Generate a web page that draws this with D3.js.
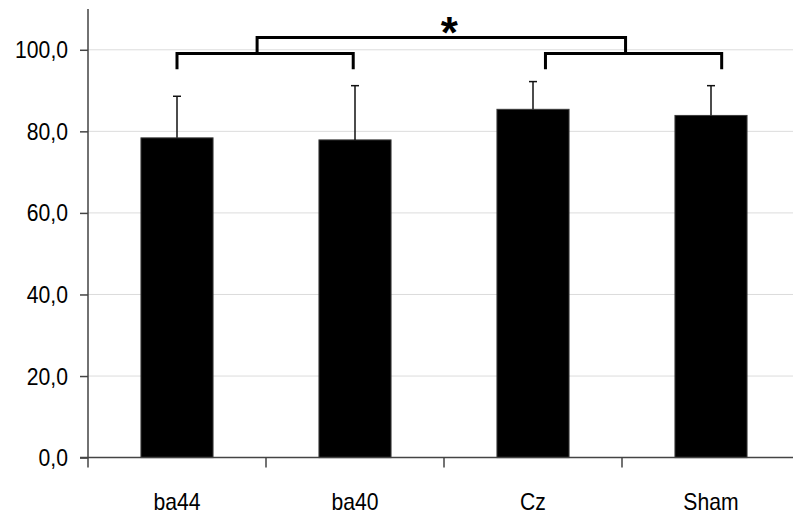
<!DOCTYPE html>
<html>
<head>
<meta charset="utf-8">
<script src="https://cdn.jsdelivr.net/npm/d3@7"></script>
<style>
  html, body { margin: 0; padding: 0; background: #fff; }
  svg { display: block; }
  text { font-family: "Liberation Sans", Arial, sans-serif; }
</style>
</head>
<body>
<svg id="chart" width="793" height="515"></svg>
<script>
// Stimulation sites and their mean scores with standard deviation
const categories = ["ba44", "ba40", "Cz", "Sham"];
const means = [78.4, 77.9, 85.4, 83.9];
const sds = [10.2, 13.3, 6.8, 7.3];
const yTicks = [0, 20, 40, 60, 80, 100];

// Significance brackets: x in category units (0..4), y in score units
const pairBrackets = [
  { x1: 0.5, x2: 1.49, y: 99.1, drop: 95.2 },
  { x1: 2.57, x2: 3.56, y: 99.1, drop: 95.2 }
];
const groupBracket = { x1: 0.95, x2: 3.02, y: 103.0, drop: 99.1 };
const starLabel = { x: 2.03, y: 105.3, text: "*" };

const svg = d3.select("#chart");
const margin = { left: 88, right: -7, top: 9, bottom: 57 };
const W = 793, H = 515;
const labelSize = 23;

const x = d3.scaleBand()
  .domain(categories)
  .range([margin.left, W - margin.right])
  .paddingInner(0)
  .paddingOuter(0);
const xu = d3.scaleLinear().domain([0, categories.length]).range(x.range());
const y = d3.scaleLinear().domain([0, 110]).range([H - margin.bottom - 0.4, margin.top]);

// Condensed-looking label text
function condense(sel, anchorX) {
  sel.attr("transform", function () {
    const ax = anchorX(this);
    return `translate(${ax},0) scale(0.92,1) translate(${-ax},0)`;
  });
}

// Grid lines
svg.append("g")
  .selectAll("line")
  .data(yTicks.filter(d => d > 0))
  .join("line")
  .attr("x1", margin.left).attr("x2", W)
  .attr("y1", d => y(d)).attr("y2", d => y(d))
  .attr("stroke", "#dcdcdc").attr("stroke-width", 1);

// Bars
const barW = x.bandwidth() * 0.405;
svg.append("g")
  .selectAll("rect")
  .data(categories)
  .join("rect")
  .attr("x", d => x(d) + x.bandwidth() / 2 - barW / 2)
  .attr("y", (d, i) => y(means[i]))
  .attr("width", barW)
  .attr("height", (d, i) => y(0) - y(means[i]))
  .attr("fill", "#000")
  .attr("stroke", "#3a3a3a")
  .attr("stroke-width", 1);

// Upper error bars
const err = svg.append("g").attr("stroke", "#111").attr("stroke-width", 1.5);
categories.forEach((c, i) => {
  const cx = x(c) + x.bandwidth() / 2;
  err.append("line").attr("x1", cx).attr("x2", cx)
    .attr("y1", y(means[i])).attr("y2", y(means[i] + sds[i]));
  err.append("line").attr("x1", cx - 4).attr("x2", cx + 4)
    .attr("y1", y(means[i] + sds[i])).attr("y2", y(means[i] + sds[i]));
});

// Y axis
const yAxis = d3.axisLeft(y)
  .tickValues(yTicks)
  .tickSize(8)
  .tickPadding(12)
  .tickFormat(d => d3.format(".1f")(d).replace(".", ","));
const gy = svg.append("g")
  .attr("transform", `translate(${margin.left},0)`)
  .call(yAxis);
gy.select(".domain").attr("d", `M-8,${y(0)}H0V${margin.top}`).attr("stroke", "#444").attr("stroke-width", 1.5);
gy.selectAll(".tick line").attr("stroke", "#444").attr("stroke-width", 1.5);
gy.selectAll(".tick text").attr("font-size", labelSize).attr("fill", "#000")
  .attr("font-family", "'Liberation Sans', Arial, sans-serif")
  .attr("dy", "0.35em")
  .call(condense, () => -20);

// X axis: ticks at band boundaries, labels at band centers
const gx = svg.append("g").attr("transform", `translate(0,${y(0)})`);
gx.append("line").attr("x1", margin.left).attr("x2", W)
  .attr("y1", 0).attr("y2", 0)
  .attr("stroke", "#444").attr("stroke-width", 1.5);
gx.selectAll("line.tk")
  .data(categories)
  .join("line")
  .attr("class", "tk")
  .attr("x1", d => x(d)).attr("x2", d => x(d))
  .attr("y1", 0).attr("y2", 10)
  .attr("stroke", "#444").attr("stroke-width", 1.5);
gx.selectAll("text")
  .data(categories)
  .join("text")
  .attr("x", d => x(d) + x.bandwidth() / 2)
  .attr("y", 52)
  .attr("text-anchor", "middle")
  .attr("font-size", labelSize)
  .attr("fill", "#000")
  .text(d => d)
  .call(condense, el => +el.getAttribute("x"));

// Significance brackets
const br = svg.append("g").attr("fill", "none").attr("stroke", "#000").attr("stroke-width", 3);
pairBrackets.forEach(b => {
  br.append("path").attr("d",
    `M${xu(b.x1)},${y(b.drop)}V${y(b.y)}H${xu(b.x2)}V${y(b.drop)}`);
});
br.append("path").attr("d",
  `M${xu(groupBracket.x1)},${y(groupBracket.drop)}V${y(groupBracket.y)}H${xu(groupBracket.x2)}V${y(groupBracket.drop)}`);

svg.append("text")
  .attr("x", xu(starLabel.x))
  .attr("y", y(starLabel.y) + 20)
  .attr("text-anchor", "middle")
  .attr("font-size", 44)
  .attr("font-weight", "bold")
  .attr("fill", "#000")
  .text(starLabel.text);
</script>
</body>
</html>
